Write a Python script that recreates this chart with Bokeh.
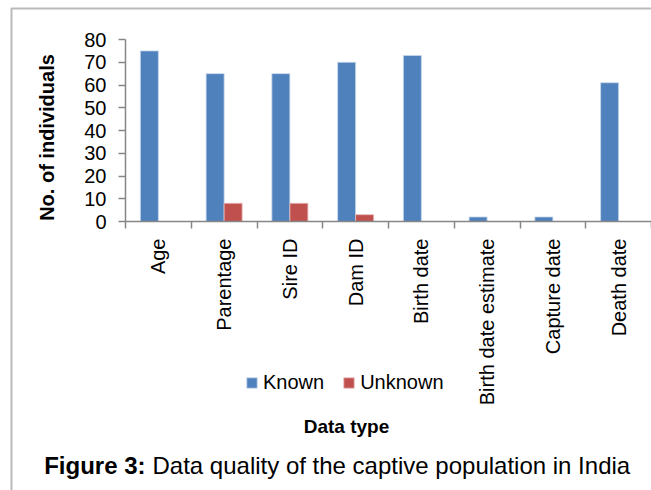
import math
from bokeh.plotting import figure
from bokeh.models import Range1d, FixedTicker, Label, Legend, LegendItem, PolyAnnotation
from bokeh.embed import file_html
from bokeh.resources import INLINE

categories = ["Age", "Parentage", "Sire ID", "Dam ID", "Birth date",
              "Birth date estimate", "Capture date", "Death date"]
known = [75, 65, 65, 70, 73, 2, 2, 61]
unknown = [0, 8, 8, 3, 0, 0, 0, 0]
y_ticks = [0, 10, 20, 30, 40, 50, 60, 70, 80]
y_max = 80

FONT = "Liberation Sans"
BLUE = "#4F81BD"
RED = "#C0504D"
AXIS = "#868686"

W, H = 651, 490
# plot area of the chart, in canvas pixels
PL, PR, PT, PB = 125, 651, 39, 221
n = len(categories)
cw = (PR - PL) / n
upp = y_max / (PB - PT)

def px_x(px):
    return (px - PL) / cw - 0.5

def px_y(py):
    return (PB - py) * upp

p = figure(width=W, height=H, output_backend="svg", toolbar_location=None,
           x_range=Range1d(px_x(0), px_x(W)), y_range=Range1d(px_y(H), px_y(0)),
           min_border=0)
p.title.visible = False
p.outline_line_color = None
p.grid.visible = False
p.background_fill_color = "white"
p.border_fill_color = "white"

bw = 0.274
idx = list(range(n))
r_known = p.vbar(x=[i - bw / 2 for i in idx], top=known, width=bw,
                 fill_color=BLUE, line_color="#c9d8ec", line_width=0.8)
u_idx = [i for i in idx if unknown[i] > 0]
r_unknown = p.vbar(x=[i + bw / 2 for i in u_idx], top=[unknown[i] for i in u_idx],
                   width=bw, fill_color=RED, line_color="#e6b9b8", line_width=0.8)

# x axis (category axis, ticks between categories)
xa = p.xaxis[0]
xa.fixed_location = 0
xa.bounds = (-0.5, n - 0.5)
xa.ticker = FixedTicker(ticks=idx, minor_ticks=[i - 0.5 for i in range(n + 1)])
xa.major_label_overrides = {i: c for i, c in enumerate(categories)}
xa.major_label_orientation = math.pi / 2
xa.major_tick_line_color = None
xa.major_tick_in = 0
xa.major_tick_out = 7
xa.minor_tick_in = 0
xa.minor_tick_out = 7
xa.minor_tick_line_color = AXIS
xa.minor_tick_line_width = 1.5
xa.axis_line_color = AXIS
xa.axis_line_width = 1.5
xa.major_label_standoff = 10
xa.major_label_text_font = FONT
xa.major_label_text_font_size = "20px"
xa.major_label_text_color = "black"

ya = p.yaxis[0]
ya.fixed_location = -0.5
ya.bounds = (0, y_max)
ya.ticker = FixedTicker(ticks=y_ticks, minor_ticks=[])
ya.major_tick_in = 0
ya.major_tick_out = 7
ya.major_tick_line_color = AXIS
ya.major_tick_line_width = 1.5
ya.axis_line_color = AXIS
ya.axis_line_width = 1.5
ya.major_label_standoff = 12
ya.major_label_text_font = FONT
ya.major_label_text_font_size = "20px"
ya.major_label_text_color = "black"

legend = Legend(items=[LegendItem(label="Known", renderers=[r_known]),
                       LegendItem(label="Unknown", renderers=[r_unknown])],
                location=(245, 96), orientation="horizontal",
                glyph_width=13, glyph_height=13, label_standoff=5, spacing=18,
                padding=0, margin=0, border_line_color=None,
                background_fill_alpha=0,
                label_text_font=FONT, label_text_font_size="20px",
                label_text_color="black")
p.add_layout(legend)

p.add_layout(Label(x=px_x(46), y=px_y(137), text="No. of individuals",
                   angle=math.pi / 2, text_align="center", text_baseline="middle",
                   text_font=FONT, text_font_style="bold", text_font_size="20px",
                   text_color="black"))
p.add_layout(Label(x=px_x(346), y=px_y(426), text="Data type",
                   text_align="center", text_baseline="middle",
                   text_font=FONT, text_font_style="bold", text_font_size="19px",
                   text_color="black"))
p.add_layout(Label(x=px_x(145), y=px_y(465), text="Figure 3:",
                   text_align="right", text_baseline="middle",
                   text_font=FONT, text_font_style="bold", text_font_size="24px",
                   text_color="black"))
p.add_layout(Label(x=px_x(152), y=px_y(465),
                   text="Data quality of the captive population in India",
                   text_align="left", text_baseline="middle",
                   text_font=FONT, text_font_size="24px", text_color="black"))

p.add_layout(PolyAnnotation(xs=[px_x(11), px_x(11), px_x(900), px_x(900)],
                            ys=[px_y(900), px_y(8), px_y(8), px_y(900)],
                            fill_alpha=0, line_color="#1a1a1a", line_width=2))

open("out.html", "w").write(file_html(p, INLINE))
